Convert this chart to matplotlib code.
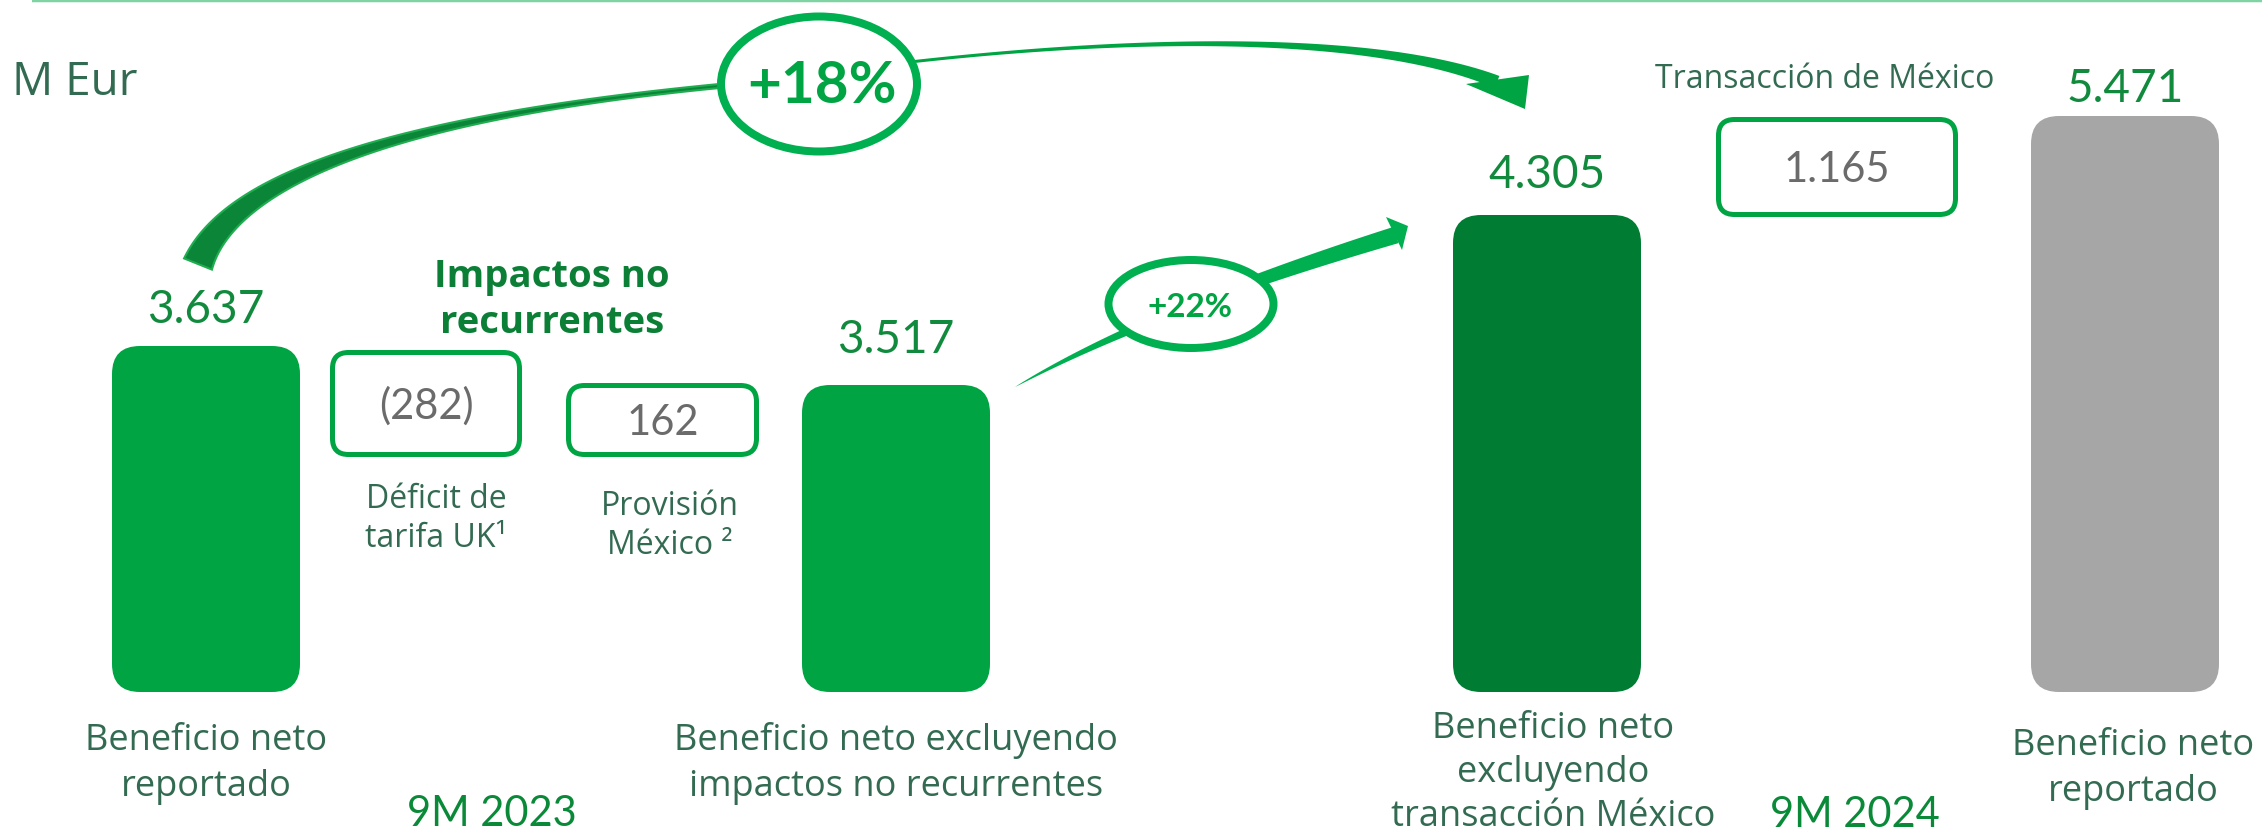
import matplotlib
matplotlib.use('Agg')
import matplotlib.pyplot as plt
from matplotlib.patches import FancyBboxPatch, Ellipse, Polygon
import numpy as np

plt.rcParams['font.family'] = ['Lato', 'DejaVu Sans']
ETIQ = ['Open Sans', 'DejaVu Sans']   # fuente de los rotulos

# datos (M Eur)
bar_labels = [['Beneficio neto', 'reportado'],
              ['Beneficio neto excluyendo', 'impactos no recurrentes'],
              ['Beneficio neto', 'excluyendo', 'transacción México'],
              ['Beneficio neto', 'reportado']]
bar_values = [3637, 3517, 4305, 5471]
bar_heights = [346, 307, 477, 576]   # altura visual en la diapositiva (no va a escala)
impact_labels = [['Déficit de', 'tarifa UK¹'], ['Provisión', 'México ²'], ['Transacción de México']]
impact_values = [-282, 162, 1165]
periods = ['9M 2023', '9M 2024']
growth = ['+18%', '+22%']

# colores
verde = '#00a443'
verde_osc = '#007c33'
verde_claro = '#00b050'
gris = '#a6a6a6'
txt = '#336b52'
txt_num = '#128a3e'

# posiciones (pixeles de la diapositiva)
bar_x = [206, 896, 1547, 2125]
bar_w = 188
base = 692
bar_colors = [verde, verde, verde_osc, gris]
value_y = [323, 353, 188, 102]
label_x = [206, 896, 1553, 2133]
label_y = [750, 750, 738, 755]
label_dy = [46, 46, 44, 46]
boxes = [(330, 350, 522, 457), (566, 383, 759, 457), (1716, 117, 1958, 217)]
impact_lx = [436, 670, 1825]
impact_ly = [508, 515, 88]
period_pos = [(492, 826), (1855, 827)]


def fmt(v):
    if v < 0:
        return '(%d)' % abs(v)
    return '{:,}'.format(v).replace(',', '.')


fig = plt.figure(figsize=(22.62, 8.33), dpi=100)
ax = fig.add_axes([0, 0, 1, 1])
ax.set_xlim(0, 2262)
ax.set_ylim(833, 0)
ax.axis('off')


def lines(x, y0, rows, dy, **kw):
    for i, r in enumerate(rows):
        ax.text(x, y0 + i * dy, r, ha='center', va='baseline', **kw)


def bezier(P, n=120):
    P = np.array(P, float)
    t = np.linspace(0, 1, n)[:, None]
    if len(P) == 3:
        pts = (1 - t) ** 2 * P[0] + 2 * (1 - t) * t * P[1] + t ** 2 * P[2]
    else:
        pts = ((1 - t) ** 3 * P[0] + 3 * (1 - t) ** 2 * t * P[1]
               + 3 * (1 - t) * t ** 2 * P[2] + t ** 3 * P[3])
    return t.ravel(), pts


def tapered(P, wfun, **kw):
    t, pts = bezier(P)
    d = np.gradient(pts, axis=0)
    d /= np.linalg.norm(d, axis=1)[:, None]
    nrm = np.stack([-d[:, 1], d[:, 0]], axis=1)
    w = wfun(t)[:, None] / 2
    poly = np.vstack([pts + nrm * w, (pts - nrm * w)[::-1]])
    ax.add_patch(Polygon(poly, closed=True, **kw))


# linea superior
ax.plot([32, 2262], [1, 1], color='#80d4a4', lw=2.5 * 0.72, solid_capstyle='butt')

ax.text(12, 95, 'M Eur', fontsize=33, color=txt, ha='left', va='baseline', family=ETIQ)

# barras
for x, h, c, v, vy in zip(bar_x, bar_heights, bar_colors, bar_values, value_y):
    ax.add_patch(FancyBboxPatch((x - bar_w / 2, base - h), bar_w, h,
                                boxstyle='round,pad=0,rounding_size=28',
                                fc=c, ec='none', zorder=2))
    ax.text(x, vy, fmt(v), fontsize=33, color=txt_num, ha='center', va='baseline')

for x, y, rows, dy in zip(label_x, label_y, bar_labels, label_dy):
    lines(x, y, rows, dy, fontsize=26, color=txt, family=ETIQ)

# impactos
for (x0, y0, x1, y1), v in zip(boxes, impact_values):
    ax.add_patch(FancyBboxPatch((x0 + 2.5, y0 + 2.5), x1 - x0 - 5, y1 - y0 - 5,
                                boxstyle='round,pad=0,rounding_size=16',
                                fc='white', ec=verde, lw=5 * 0.72, zorder=2))
    ax.text((x0 + x1) / 2, (y0 + y1) / 2 + 15, fmt(v), fontsize=30, color='#6b6b6b',
            ha='center', va='baseline', zorder=3)

for x, y, rows in zip(impact_lx, impact_ly, impact_labels):
    lines(x, y, rows, 39, fontsize=23, color=txt, family=ETIQ)

lines(552, 287, ['Impactos no', 'recurrentes'], 46, fontsize=27.5, fontweight='bold',
      color='#0b7f36', family=ETIQ)

for (x, y), p in zip(period_pos, periods):
    ax.text(x, y, p, fontsize=30, color='#0a8a38', ha='center', va='baseline')

# flecha +18%
tapered([(198, 264), (250, 130), (730, 85)], lambda t: 4 + 26 * (1 - t) ** 2,
        fc='#0b8538', ec='#20ad50', lw=1.5, zorder=4)
tapered([(910, 62), (1150, 35), (1380, 35), (1497, 82)], lambda t: 3 + 10 * t ** 2,
        fc=verde, ec='none', zorder=4)
ax.add_patch(Polygon([(1466, 84), (1529, 75), (1525, 109)], closed=True, fc=verde,
                     ec='none', zorder=4))
ax.add_patch(Ellipse((819, 84), 196, 135, fc='white', ec=verde_claro, lw=8 * 0.72, zorder=5))
ax.text(822, 103, growth[0], fontsize=42, fontweight='bold', color=verde,
        ha='center', va='baseline', zorder=6)

# flecha +22%
tapered([(1015, 387), (1150, 310), (1396, 235)], lambda t: 17 * t ** 0.8,
        fc=verde_claro, ec='none', zorder=4)
ax.add_patch(Polygon([(1386, 217), (1408, 226), (1402, 250)], closed=True,
                     fc=verde_claro, ec='none', zorder=4))
ax.add_patch(Ellipse((1191, 304), 165, 88, fc='white', ec=verde_claro, lw=8 * 0.72, zorder=5))
ax.text(1190, 317, growth[1], fontsize=24, fontweight='bold', color=verde,
        ha='center', va='baseline', zorder=6)

fig.savefig('out.png', dpi=100)
